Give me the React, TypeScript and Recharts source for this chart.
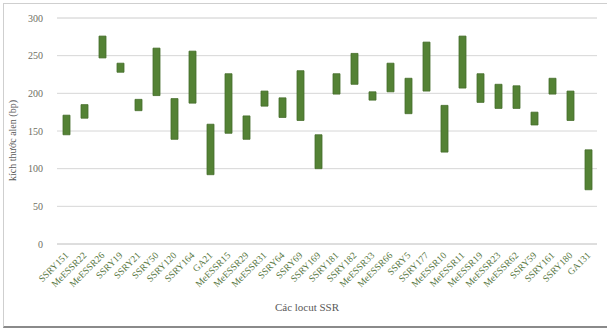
import React from "react";
import { BarChart, Bar, XAxis, YAxis, CartesianGrid } from "recharts";

// SSR loci and the allele size range (bp) observed for each
const loci = [
  "SSRY151", "MeESSR22", "MeESSR26", "SSRY19", "SSRY21", "SSRY50",
  "SSRY120", "SSRY164", "GA21", "MeESSR15", "MeESSR29", "MeESSR31",
  "SSRY64", "SSRY69", "SSRY169", "SSRY181", "SSRY182", "MeESSR33",
  "MeESSR66", "SSRY5", "SSRY177", "MeESSR10", "MeESSR11", "MeESSR19",
  "MeESSR23", "MeESSR62", "SSRY59", "SSRY161", "SSRY180", "GA131",
];

const minSize = [
  145, 167, 247, 228, 177, 197, 139, 187, 92, 147, 139, 183,
  168, 164, 100, 199, 212, 191, 202, 173, 203, 122, 207, 188,
  180, 180, 158, 199, 164, 72,
];

const maxSize = [
  171, 185, 276, 240, 192, 260, 193, 256, 159, 226, 170, 203,
  194, 230, 145, 226, 253, 202, 240, 220, 268, 184, 276, 226,
  212, 210, 175, 220, 203, 125,
];

const yTicks = [0, 50, 100, 150, 200, 250, 300];
const minorTicks = [
  10, 20, 30, 40, 60, 70, 80, 90, 110, 120, 130, 140, 160, 170, 180, 190,
  210, 220, 230, 240, 260, 270, 280, 290,
];

const data = loci.map((name, i) => ({
  name,
  range: [minSize[i], maxSize[i]],
}));

const FONT = "'Liberation Serif', 'Times New Roman', serif";

const XTick = (props: any) => {
  const { x, y, payload } = props;
  return (
    <g transform={`translate(${x + 3},${y + 4})`}>
      <text
        x={0}
        y={0}
        textAnchor="end"
        transform="rotate(-45)"
        fontFamily={FONT}
        fontSize={9.5}
        fill="#55753d"
      >
        {payload.value}
      </text>
    </g>
  );
};

export default function App() {
  return (
    <div
      style={{
        position: "absolute",
        left: 0,
        top: 0,
        width: 607,
        height: 329,
        background: "#fff",
        overflow: "hidden",
      }}
    >
      <div
        style={{
          position: "absolute",
          left: 3,
          top: 3,
          width: 620,
          height: 322,
          borderLeft: "1px solid #cfcfcf",
          borderTop: "1px solid #cfcfcf",
          borderBottom: "2px solid #8a8a8a",
        }}
      />
      <div style={{ position: "absolute", left: 0, top: 0 }}>
        <BarChart
          width={607}
          height={329}
          data={data}
          margin={{ top: 18, right: 10, bottom: 14, left: 0 }}
          barCategoryGap={0}
        >
          {/* minor gridlines every 10 bp, then major gridlines every 50 bp */}
          <CartesianGrid
            vertical={false}
            yAxisId="minor"
            stroke="#ececec"
            strokeWidth={1}
          />
          <CartesianGrid vertical={false} stroke="#d6d6d6" strokeWidth={1} />
          <XAxis
            dataKey="name"
            interval={0}
            tickLine={false}
            axisLine={{ stroke: "#d6d6d6" }}
            tick={<XTick />}
            height={71}
            label={{
              value: "Các locut SSR",
              position: "insideBottom",
              offset: 4,
              dx: -20,
              fontFamily: FONT,
              fontSize: 11,
              fill: "#595959",
            }}
          />
          <YAxis
            domain={[0, 300]}
            ticks={yTicks}
            interval={0}
            width={57}
            tickLine={false}
            axisLine={false}
            tickMargin={8}
            tick={{ fontFamily: FONT, fontSize: 10, fill: "#6e6e62" }}
            label={{
              value: "kích thước alen (bp)",
              angle: -90,
              position: "insideLeft",
              offset: 12,
              dy: 50,
              fontFamily: FONT,
              fontSize: 10,
              fill: "#595959",
            }}
          />
          <YAxis
            yAxisId="minor"
            domain={[0, 300]}
            ticks={minorTicks}
            interval={0}
            width={0}
            tick={false}
            tickLine={false}
            axisLine={false}
          />
          <Bar
            dataKey="range"
            barSize={7}
            fill="#548235"
            stroke="#456d2b"
            strokeWidth={0.8}
            isAnimationActive={false}
          />
        </BarChart>
      </div>
    </div>
  );
}
